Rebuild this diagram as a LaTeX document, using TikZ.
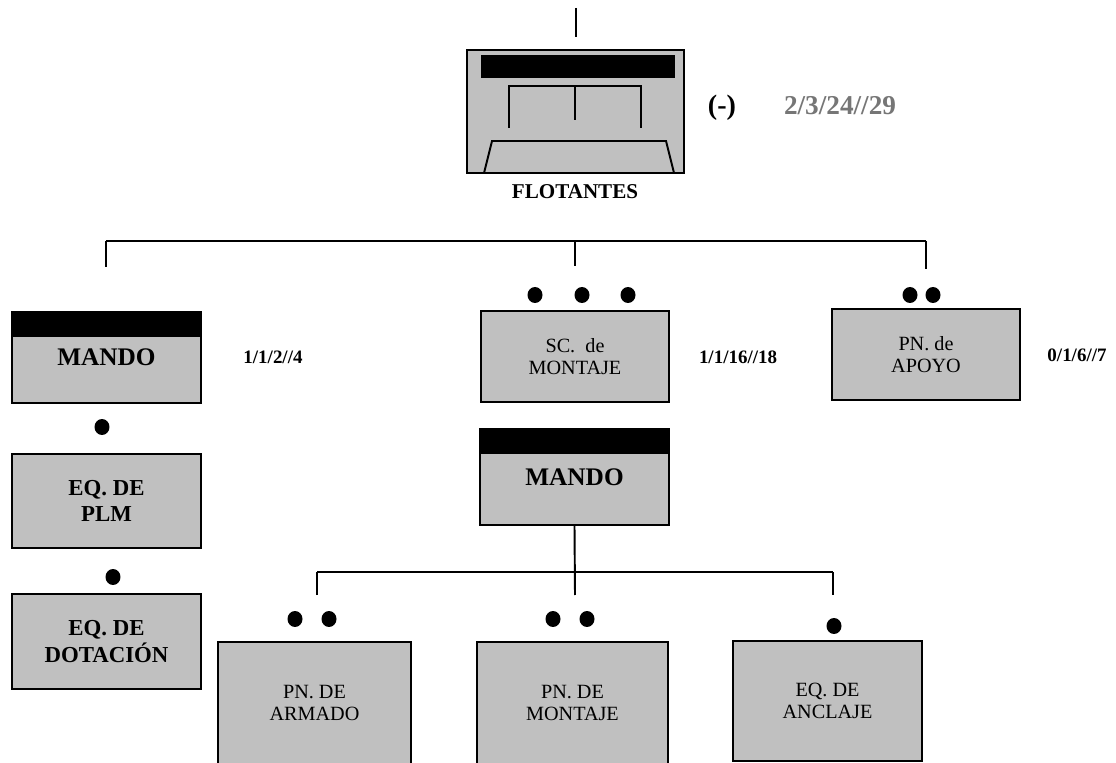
\documentclass[tikz,border=0pt]{standalone}
\usepackage{fontspec}
\setmainfont{Liberation Serif}
\usetikzlibrary{positioning}
\definecolor{boxgray}{RGB}{192,192,192}
\definecolor{numgray}{RGB}{118,118,118}
\tikzset{
  % --- unit boxes ------------------------------------------------------------
  unit/.style={draw,line width=1.1pt,fill=boxgray,align=center,inner sep=2pt,
               minimum width=3.78cm,minimum height=1.82cm,
               font=\fontsize{11.5}{12.5}\selectfont},
  unitb/.style={unit,font=\fontsize{13}{15}\selectfont\bfseries},
  cmdunit/.style={unit,font=\fontsize{14.4}{16}\selectfont\bfseries,
    path picture={\fill[black] (path picture bounding box.north west)
      rectangle ([yshift=-0.5cm]path picture bounding box.north east);}},
  % --- strength figures ------------------------------------------------------
  cnt/.style={font=\fontsize{10.8}{12}\selectfont\bfseries,inner sep=1pt},
  % --- lines and marks -------------------------------------------------------
  link/.style={line width=1.1pt},
  pip/.style={fill=black},
}

\begin{document}
\begin{tikzpicture}[x=0.02cm,y=-0.02cm]
  \useasboundingbox (0,0) rectangle (1116,763);
  % top unit (symbol)
  \node[draw,line width=1.1pt,fill=boxgray,minimum width=4.34cm,minimum height=2.46cm] (flot) at (575.5,111.5) {};
  \fill (481,55) rectangle (675,78);
  \draw[link] (509,128) -- (509,86) -- (641,86) -- (641,128);
  \draw[link] (575,86) -- (575,120);
  \draw[link] (484,173) -- (492,141) -- (666,141) -- (674,173);
  \node[font=\fontsize{12}{14}\selectfont\bfseries] (flotlab) at (575,192) {FLOTANTES};
  \node[font=\fontsize{16}{18}\selectfont\bfseries] (sign) at (722,108) {(-)};
  \node[font=\fontsize{15.5}{18}\selectfont\bfseries,text=numgray] (tot) at (840,106) {2/3/24//29};
  \coordinate (up) at (576,8); \coordinate (upend) at (576,37);
  \draw[link] (up) -- (upend);
  % first level
  \node[cmdunit] (mando1) at (106.5,357.5) {MANDO};
  \node[unit,minimum width=3.76cm] (scm) at (575,356.5) {SC.\ \ de\\MONTAJE};
  \node[unit,minimum width=3.76cm] (pna) at (926,354.5) {PN. de\\APOYO};
  \node[cnt] (n1) at (273,357) {1/1/2//4};
  \node[cnt] (n2) at (738,357) {1/1/16//18};
  \node[cnt] (n3) at (1077,355) {0/1/6//7};
  \coordinate (b1) at (106,241); \coordinate (bm) at (575,241); \coordinate (b2) at (926,241);
  \coordinate (d1) at (106,267); \coordinate (dm) at (575,266); \coordinate (d2) at (926,269);
  \foreach \a/\b in {d1/b1,b1/b2,b2/d2,bm/dm} \draw[link] (\a) -- (\b);
  % left column
  \node[unitb,minimum height=1.88cm] (plm) at (106.5,501) {EQ. DE\\PLM};
  \node[unitb,minimum height=1.9cm] (dot) at (106.5,641.5) {EQ. DE\\DOTACIÓN};
  % second level
  \node[cmdunit,minimum height=1.92cm] (mando2) at (574.5,477) {MANDO};
  \node[unit,minimum width=3.86cm,minimum height=2.44cm] (pnar) at (314.5,703) {PN. DE\\ARMADO};
  \node[unit,minimum width=3.82cm,minimum height=2.44cm] (pnmo) at (572.5,703) {PN. DE\\MONTAJE};
  \node[unit,minimum height=2.4cm] (eqan) at (827.5,701) {EQ. DE\\ANCLAJE};
  \coordinate (c1) at (317,572); \coordinate (c2) at (833,572);
  \coordinate (e1) at (317,595); \coordinate (em) at (575,595); \coordinate (e2) at (833,595);
  \draw[link] (mando2.south) -- (em);
  \foreach \a/\b in {e1/c1,c1/c2,c2/e2} \draw[link] (\a) -- (\b);
  % rank marks
  \foreach \p in {(102,427),(113,577),(535,295),(582,295),(628,295),(910,295),(933,295),
                  (295,619),(329,619),(553,619),(587,619),(834,626)}
    \fill[pip] \p ellipse [x radius=0.15cm,y radius=0.16cm];
\end{tikzpicture}
\end{document}
